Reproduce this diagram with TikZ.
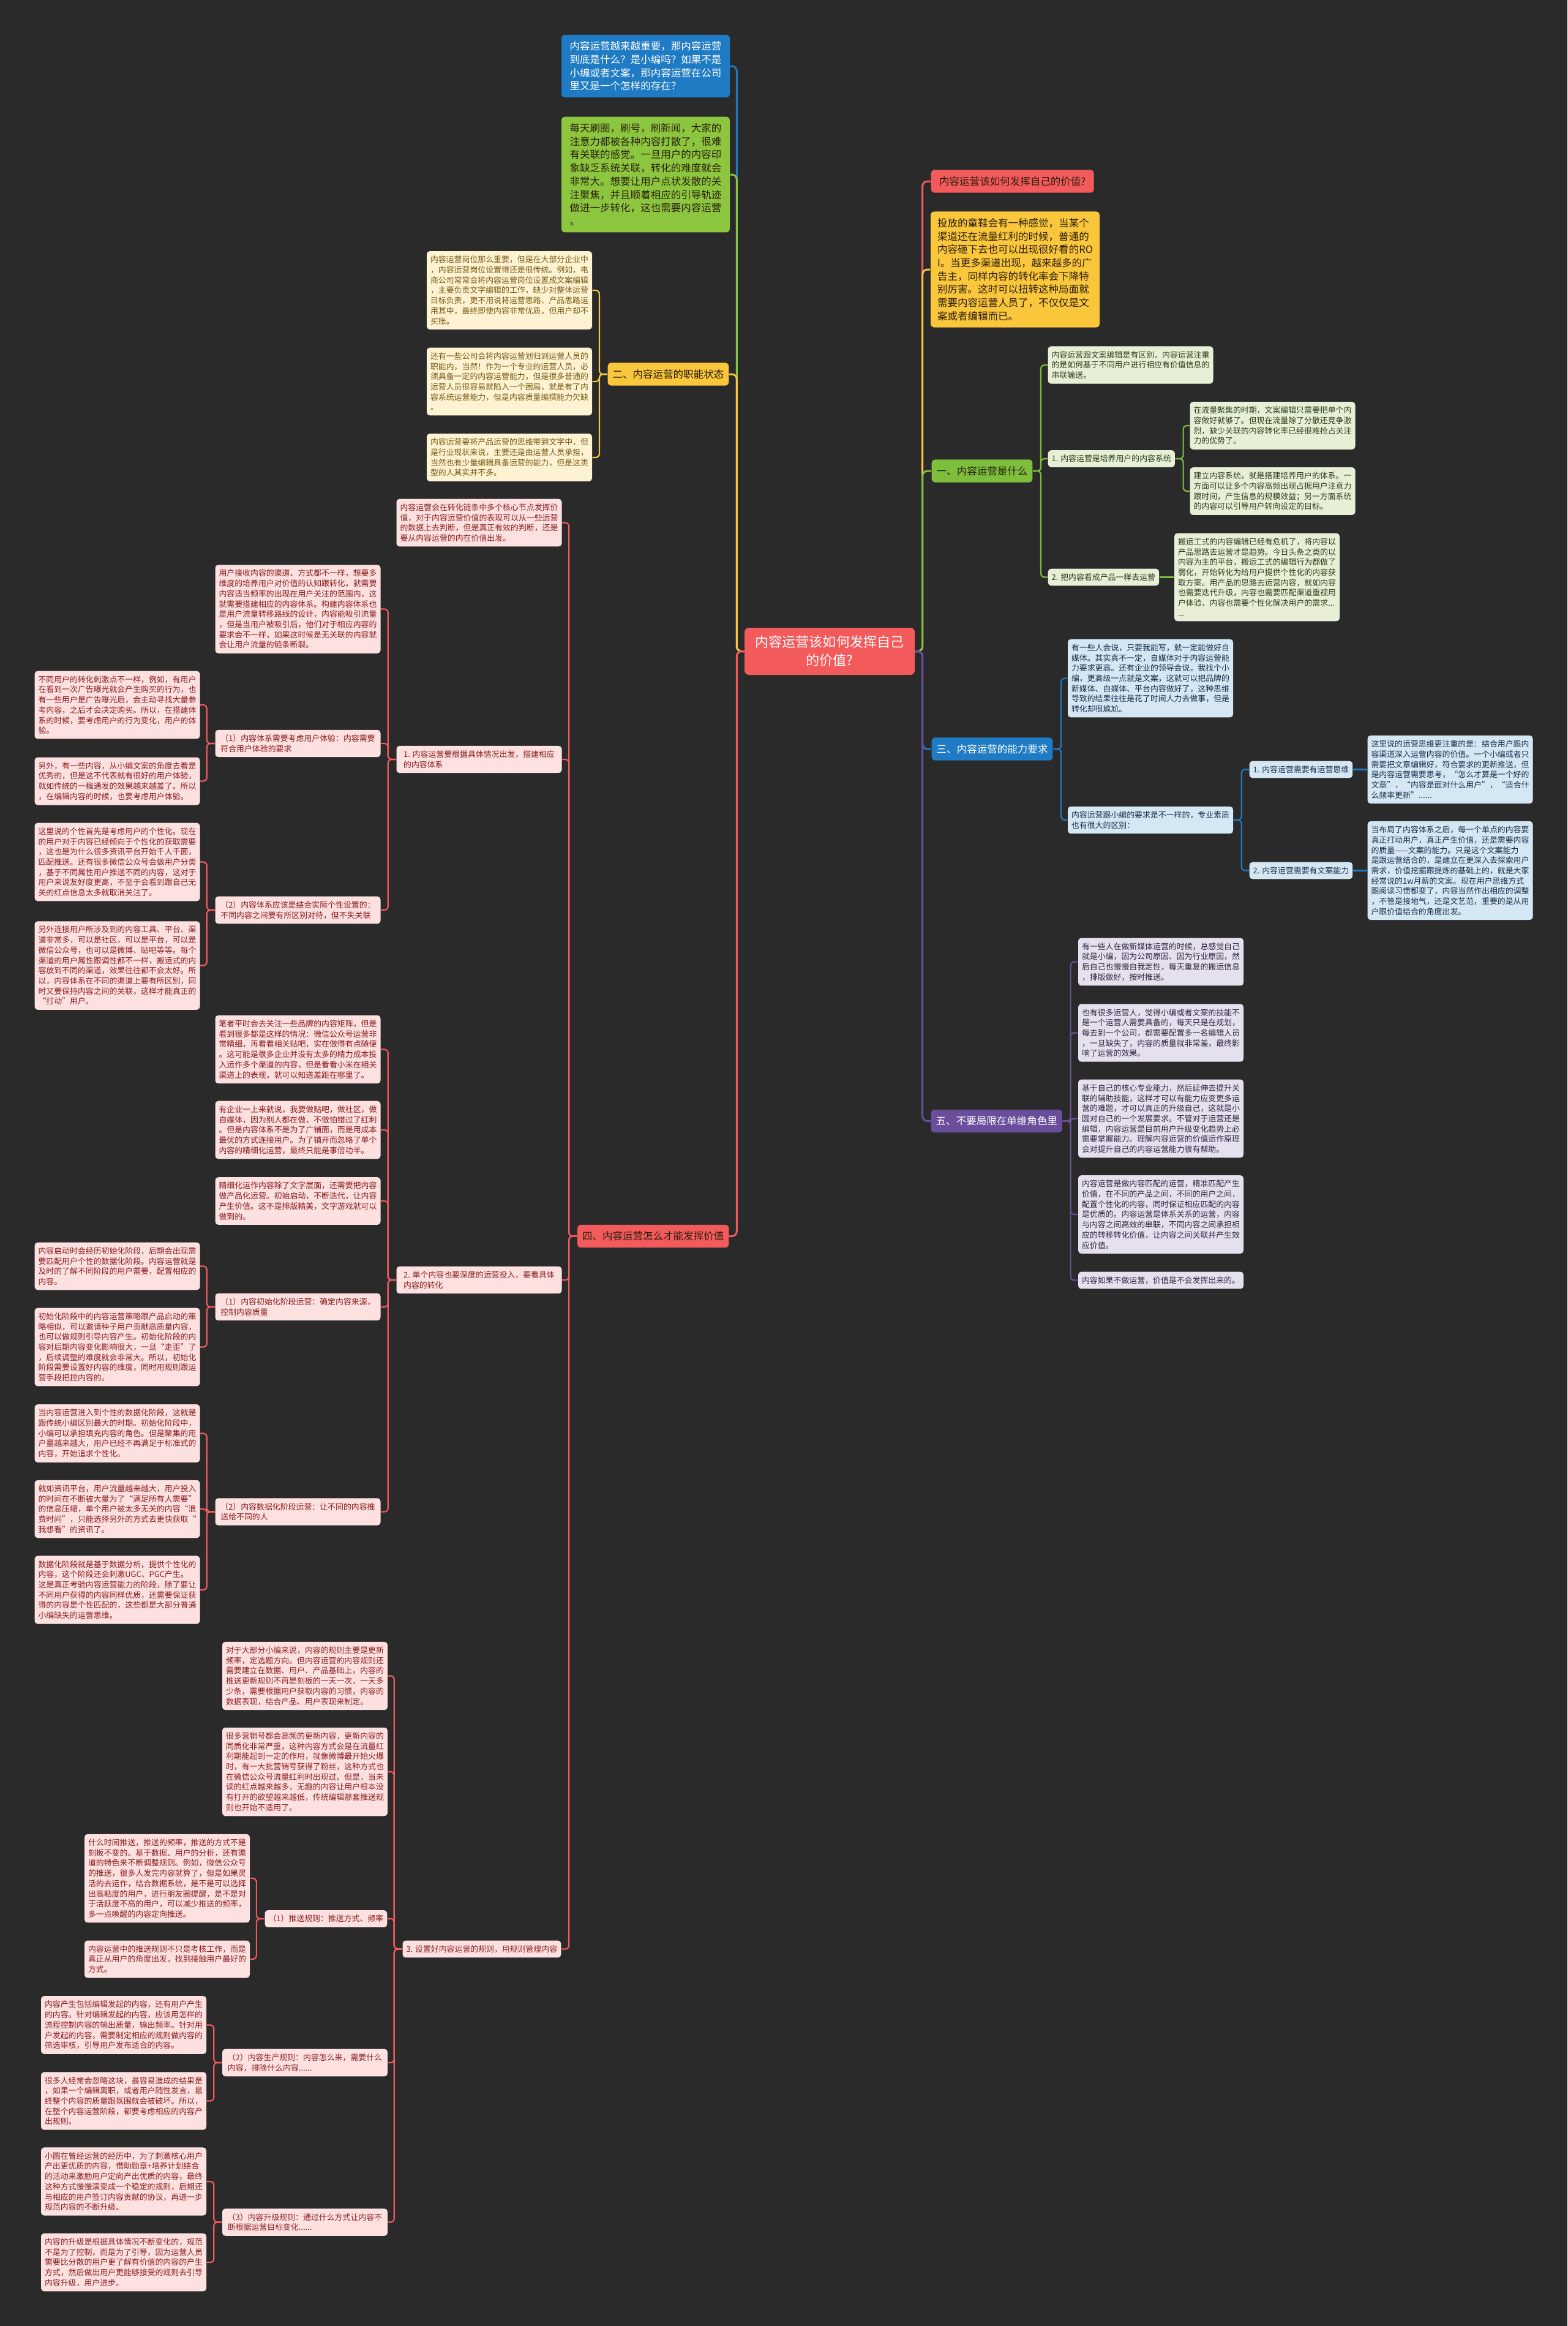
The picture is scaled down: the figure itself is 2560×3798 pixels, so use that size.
\documentclass[tikz,border=0pt]{standalone}
\usepackage{fontspec}
\setmainfont{Noto Sans CJK SC}
\usepackage{xcolor}
\usepackage{tikz}
\usetikzlibrary{positioning}

\definecolor{bg}{HTML}{2A2A2A}
\definecolor{cRoot}{HTML}{F25A5C}
\definecolor{cBlue}{HTML}{1F7BC3}
\definecolor{cGreen}{HTML}{8CC63F}
\definecolor{cYellow}{HTML}{F9C63C}
\definecolor{cRed}{HTML}{F25A5C}
\definecolor{cLime}{HTML}{7DBF3D}
\definecolor{cPurple}{HTML}{6A4E9B}
\definecolor{tDark}{HTML}{2B1E0C}
\definecolor{lYellow}{HTML}{FDF3D3}
\definecolor{tYellow}{HTML}{7A5A12}
\definecolor{lLime}{HTML}{E7F0D7}
\definecolor{tLime}{HTML}{2F3B1B}
\definecolor{lBlue}{HTML}{D6E7F4}
\definecolor{tBlue}{HTML}{17304A}
\definecolor{lPurple}{HTML}{E5E0ED}
\definecolor{tPurple}{HTML}{2E2640}
\definecolor{lRed}{HTML}{FDE1E1}
\definecolor{tRed}{HTML}{8A1C1C}

\newcommand{\smalltxt}{\fontsize{3.67pt}{4.75pt}\selectfont}
\newcommand{\bigtxt}{\fontsize{4.7pt}{6.17pt}\selectfont}
\newcommand{\roottxt}{\fontsize{6.3pt}{8.5pt}\selectfont}

\begin{document}
\begin{tikzpicture}[x=0.1mm, y=-0.1mm,
            rootbox/.style={rounded corners=0.7mm, fill=cRoot, text=white, font=\roottxt, align=center, minimum width=27.8mm, minimum height=7.7mm},
            bigbox/.style={rounded corners=0.6mm, inner xsep=0.8mm, inner ysep=1.1mm, font=\bigtxt, align=left},
            subbox/.style={rounded corners=0.5mm, inner xsep=0.6mm, inner ysep=0.78mm, font=\smalltxt, align=left},
            leaf/.style={subbox, minimum width=27mm},
            leafY/.style={leaf, fill=lYellow, text=tYellow},
            leafG/.style={leaf, fill=lLime, text=tLime},
            leafB/.style={leaf, fill=lBlue, text=tBlue},
            leafP/.style={leaf, fill=lPurple, text=tPurple},
            leafR/.style={leaf, fill=lRed, text=tRed},
            subG/.style={subbox, fill=lLime, text=tLime},
            subB/.style={subbox, fill=lBlue, text=tBlue},
            subR/.style={subbox, fill=lRed, text=tRed},
            trunk/.style={line width=0.3mm, rounded corners=0.8mm},
            conn/.style={line width=0.22mm, rounded corners=0.6mm}]

            \useasboundingbox (0,0) rectangle (2560,3798);
            \fill[bg] (0,0) rectangle (2560,3798);

            % Root
            \node (root) [rootbox] at (1355,1063.5) {内容运营该如何发挥自己\\的价值?};

            % Left: intro boxes
            \node (intro) [bigbox, fill=cBlue, text=white, minimum width=27.5mm] at (1054.5,108) {内容运营越来越重要，那内容运营\\到底是什么？是小编吗？如果不是\\小编或者文案，那内容运营在公司\\里又是一个怎样的存在？};
            \node (focus) [bigbox, fill=cGreen, text=tDark, minimum width=27.5mm] at (1054.5,285) {每天刷圈，刷号，刷新闻，大家的\\注意力都被各种内容打散了，很难\\有关联的感觉。一旦用户的内容印\\象缺乏系统关联，转化的难度就会\\非常大。想要让用户点状发散的关\\注聚焦，并且顺着相应的引导轨迹\\做进一步转化，这也需要内容运营\\。};

            % Left: 二
            \node (duty) [bigbox, fill=cYellow, text=tDark, anchor=east] at (1191,611) {二、内容运营的职能状态};
            \node (duty1) [leafY] at (832,474) {内容运营岗位那么重要，但是在大部分企业中\\，内容运营岗位设置得还是很传统。例如，电\\商公司常常会将内容运营岗位设置成文案编辑\\，主要负责文字编辑的工作，缺少对整体运营\\目标负责，更不用说将运营思路、产品思路运\\用其中，最终即使内容非常优质，但用户却不\\买账。};
            \node (duty2) [leafY] at (832,623) {还有一些公司会将内容运营划归到运营人员的\\职能内，当然！作为一个专业的运营人员，必\\须具备一定的内容运营能力，但是很多普通的\\运营人员很容易就陷入一个困局，就是有了内\\容系统运营能力，但是内容质量编撰能力欠缺\\。};
            \node (duty3) [leafY] at (832,747) {内容运营要将产品运营的思维带到文字中，但\\是行业现状来说，主要还是由运营人员承担，\\当然也有少量编辑具备运营的能力，但是这类\\型的人其实并不多。};

            % Left: 四
            \node (how) [bigbox, fill=cRed, text=tDark, anchor=east] at (1191,2018.5) {四、内容运营怎么才能发挥价值};
            \node (how0) [leafR] at (782.5,853.5) {内容运营会在转化链条中多个核心节点发挥价\\值，对于内容运营价值的表现可以从一些运营\\的数据上去判断，但是真正有效的判断，还是\\要从内容运营的内在价值出发。};
            \node (how1) [leafR] at (782.5,1240) {1. 内容运营要根据具体情况出发，搭建相应\\的内容体系};
            \node (sys0) [leafR] at (486.5,994.5) {用户接收内容的渠道、方式都不一样，想要多\\维度的培养用户对价值的认知跟转化，就需要\\内容适当频率的出现在用户关注的范围内，这\\就需要搭建相应的内容体系。构建内容体系也\\是用户流量转移路线的设计，内容能吸引流量\\，但是当用户被吸引后，他们对于相应内容的\\要求会不一样，如果这时候是无关联的内容就\\会让用户流量的链条断裂。};
            \node (sys1) [leafR] at (486.5,1214) {（1）内容体系需要考虑用户体验：内容需要\\符合用户体验的要求};
            \node (sys2) [leafR] at (486.5,1486) {（2）内容体系应该是结合实际个性设置的：\\不同内容之间要有所区别对待，但不失关联};
            \node (exp1) [leafR] at (191.5,1151) {不同用户的转化刺激点不一样，例如，有用户\\在看到一次广告曝光就会产生购买的行为，也\\有一些用户是广告曝光后，会主动寻找大量参\\考内容，之后才会决定购买。所以，在搭建体\\系的时候，要考虑用户的行为变化，用户的体\\验。};
            \node (exp2) [leafR] at (191.5,1275.5) {另外，有一些内容，从小编文案的角度去看是\\优秀的，但是这不代表就有很好的用户体验，\\就如传统的一稿通发的效果越来越差了。所以\\，在编辑内容的时候，也要考虑用户体验。};
            \node (per1) [leafR] at (191.5,1407.5) {这里说的个性首先是考虑用户的个性化。现在\\的用户对于内容已经倾向于个性化的获取需要\\，这也是为什么很多资讯平台开始千人千面，\\匹配推送。还有很多微信公众号会做用户分类\\，基于不同属性用户推送不同的内容，这对于\\用户来说友好度更高，不至于会看到跟自己无\\关的红点信息太多就取消关注了。};
            \node (per2) [leafR] at (191.5,1576.5) {另外连接用户所涉及到的内容工具、平台、渠\\道非常多，可以是社区，可以是平台，可以是\\微信公众号，也可以是微博、贴吧等等。每个\\渠道的用户属性跟调性都不一样，搬运式的内\\容放到不同的渠道，效果往往都不会太好。所\\以，内容体系在不同的渠道上要有所区别，同\\时又要保持内容之间的关联，这样才能真正的\\“打动”用户。};

            \node (how2) [leafR] at (782.5,2090) {2. 单个内容也要深度的运营投入，要看具体\\内容的转化};
            \node (deep1) [leafR] at (486.5,1713.5) {笔者平时会去关注一些品牌的内容矩阵，但是\\看到很多都是这样的情况：微信公众号运营非\\常精细，再看看相关贴吧，实在做得有点随便\\。这可能是很多企业并没有太多的精力成本投\\入运作多个渠道的内容，但是看看小米在相关\\渠道上的表现，就可以知道差距在哪里了。};
            \node (deep2) [leafR] at (486.5,1845) {有企业一上来就说，我要做贴吧，做社区，做\\自媒体，因为别人都在做，不做怕错过了红利\\。但是内容体系不是为了广铺面，而是用成本\\最优的方式连接用户。为了铺开而忽略了单个\\内容的精细化运营，最终只能是事倍功半。};
            \node (deep3) [leafR] at (486.5,1961) {精细化运作内容除了文字层面，还需要把内容\\做产品化运营。初始启动，不断迭代，让内容\\产生价值。这不是排版精美，文字游戏就可以\\做到的。};
            \node (init) [leafR] at (486.5,2134) {（1）内容初始化阶段运营：确定内容来源，\\控制内容质量};
            \node (data) [leafR] at (486.5,2468.5) {（2）内容数据化阶段运营：让不同的内容推\\送给不同的人};
            \node (init1) [leafR] at (191.5,2067.5) {内容启动时会经历初始化阶段，后期会出现需\\要匹配用户个性的数据化阶段。内容运营就是\\及时的了解不同阶段的用户需要，配置相应的\\内容。};
            \node (init2) [leafR] at (191.5,2199.5) {初始化阶段中的内容运营策略跟产品启动的策\\略相似，可以邀请种子用户贡献高质量内容，\\也可以做规则引导内容产生。初始化阶段的内\\容对后期内容变化影响很大，一旦“走歪”了\\，后续调整的难度就会非常大。所以，初始化\\阶段需要设置好内容的维度，同时用规则跟运\\营手段把控内容的。};
            \node (data1) [leafR] at (191.5,2340.5) {当内容运营进入到个性的数据化阶段，这就是\\跟传统小编区别最大的时期。初始化阶段中，\\小编可以承担填充内容的角色。但是聚集的用\\户量越来越大，用户已经不再满足于标准式的\\内容，开始追求个性化。};
            \node (data2) [leafR] at (191.5,2464) {就如资讯平台，用户流量越来越大，用户投入\\的时间在不断被大量为了“满足所有人需要”\\的信息压缩，单个用户被太多无关的内容“浪\\费时间”，只能选择另外的方式去更快获取“\\我想看”的资讯了。};
            \node (data3) [leafR] at (191.5,2596) {数据化阶段就是基于数据分析，提供个性化的\\内容，这个阶段还会刺激UGC、PGC产生。\\这是真正考验内容运营能力的阶段，除了要让\\不同用户获得的内容同样优质，还需要保证获\\得的内容是个性匹配的，这些都是大部分普通\\小编缺失的运营思维。};

            \node (how3) [subR, anchor=east] at (917,3182.5) {3. 设置好内容运营的规则，用规则管理内容};
            \node (rule1) [leafR] at (498,2736.5) {对于大部分小编来说，内容的规则主要是更新\\频率，定选题方向。但内容运营的内容规则还\\需要建立在数据、用户、产品基础上，内容的\\推送更新规则不再是刻板的一天一次，一天多\\少条，需要根据用户获取内容的习惯，内容的\\数据表现，结合产品、用户表现来制定。};
            \node (rule2) [leafR] at (498,2893) {很多营销号都会高频的更新内容，更新内容的\\同质化非常严重，这种内容方式会是在流量红\\利期能起到一定的作用，就像微博最开始火爆\\时，有一大批营销号获得了粉丝，这种方式也\\在微信公众号流量红利时出现过。但是，当未\\读的红点越来越多，无趣的内容让用户根本没\\有打开的欲望越来越低，传统编辑那套推送规\\则也开始不适用了。};
            \node (push) [subR, anchor=east] at (633,3133) {（1）推送规则：推送方式、频率};
            \node (make) [leafR] at (498,3368) {（2）内容生产规则：内容怎么来，需要什么\\内容，排除什么内容......};
            \node (grow) [leafR] at (498,3628.5) {（3）内容升级规则：通过什么方式让内容不\\断根据运营目标变化......};
            \node (push1) [leafR] at (273,3067) {什么时间推送，推送的频率，推送的方式不是\\刻板不变的。基于数据、用户的分析，还有渠\\道的特色来不断调整规则。例如，微信公众号\\的推送，很多人发完内容就算了，但是如果灵\\活的去运作，结合数据系统，是不是可以选择\\出高粘度的用户，进行朋友圈提醒，是不是对\\于活跃度不高的用户，可以减少推送的频率，\\多一点唤醒的内容定向推送。};
            \node (push2) [leafR] at (273,3199) {内容运营中的推送规则不只是考核工作，而是\\真正从用户的角度出发，找到接触用户最好的\\方式。};
            \node (make1) [leafR] at (202,3306.5) {内容产生包括编辑发起的内容，还有用户产生\\的内容。针对编辑发起的内容，应该用怎样的\\流程控制内容的输出质量，输出频率。针对用\\户发起的内容，需要制定相应的规则做内容的\\筛选审核，引导用户发布适合的内容。};
            \node (make2) [leafR] at (202,3430.5) {很多人经常会忽略这块，最容易造成的结果是\\，如果一个编辑离职，或者用户随性发言，最\\终整个内容的质量跟氛围就会被破坏。所以，\\在整个内容运营阶段，都要考虑相应的内容产\\出规则。};
            \node (grow1) [leafR] at (202,3562) {小圆在曾经运营的经历中，为了刺激核心用户\\产出更优质的内容，借助勋章+培养计划结合\\的活动来激励用户定向产出优质的内容，最终\\这种方式慢慢演变成一个稳定的规则，后期还\\与相应的用户签订内容贡献的协议，再进一步\\规范内容的不断升级。};
            \node (grow2) [leafR] at (202,3694) {内容的升级是根据具体情况不断变化的，规范\\不是为了控制，而是为了引导，因为运营人员\\需要比分散的用户更了解有价值的内容的产生\\方式，然后做出用户更能够接受的规则去引导\\内容升级，用户进步。};

            % Right: title and ROI box
            \node (value) [bigbox, fill=cRed, text=tDark, anchor=west, minimum width=26.6mm] at (1520,296) {内容运营该如何发挥自己的价值?};
            \node (roi) [bigbox, fill=cYellow, text=tDark, minimum width=27.6mm] at (1658,440) {投放的童鞋会有一种感觉，当某个\\渠道还在流量红利的时候，普通的\\内容砸下去也可以出现很好看的RO\\I。当更多渠道出现，越来越多的广\\告主，同样内容的转化率会下降特\\别厉害。这时可以扭转这种局面就\\需要内容运营人员了，不仅仅是文\\案或者编辑而已。};

            % Right: 一
            \node (what) [bigbox, fill=cLime, text=tDark, anchor=west] at (1521,769) {一、内容运营是什么};
            \node (what0) [leafG] at (1846.5,596) {内容运营跟文案编辑是有区别，内容运营注重\\的是如何基于不同用户进行相应有价值信息的\\串联输送。};
            \node (what1) [subG, anchor=west] at (1711,749) {1. 内容运营是培养用户的内容系统};
            \node (what2) [subG, anchor=west] at (1711,942.5) {2. 把内容看成产品一样去运营};
            \node (sysa) [leafG] at (2078.5,695) {在流量聚集的时期，文案编辑只需要把单个内\\容做好就够了。但现在流量除了分散还竞争激\\烈，缺少关联的内容转化率已经很难抢占关注\\力的优势了。};
            \node (sysb) [leafG] at (2078.5,802) {建立内容系统，就是搭建培养用户的体系。一\\方面可以让多个内容高频出现占据用户注意力\\跟时间，产生信息的规模效益；另一方面系统\\的内容可以引导用户转向设定的目标。};
            \node (prod) [leafG] at (2053,942.5) {搬运工式的内容编辑已经有危机了，将内容以\\产品思路去运营才是趋势。今日头条之类的以\\内容为主的平台，搬运工式的编辑行为都做了\\弱化，开始转化为给用户提供个性化的内容获\\取方案。用产品的思路去运营内容，就如内容\\也需要迭代升级，内容也需要匹配渠道重视用\\户体验，内容也需要个性化解决用户的需求...\\...};

            % Right: 三
            \node (ability) [bigbox, fill=cBlue, text=white, anchor=west] at (1521,1223) {三、内容运营的能力要求};
            \node (abil0) [leafB] at (1879,1107.5) {有一些人会说，只要我能写，就一定能做好自\\媒体。其实真不一定，自媒体对于内容运营能\\力要求更高。还有企业的领导会说，我找个小\\编，更高级一点就是文案，这就可以把品牌的\\新媒体、自媒体、平台内容做好了，这种思维\\导致的结果往往是花了时间人力去做事，但是\\转化却很尴尬。};
            \node (abil1) [leafB] at (1879,1339) {内容运营跟小编的要求是不一样的，专业素质\\也有很大的区别：};
            \node (think) [subB, anchor=west] at (2040,1256.5) {1. 内容运营需要有运营思维};
            \node (copy) [subB, anchor=west] at (2040,1421.5) {2. 内容运营需要有文案能力};
            \node (think1) [leafB] at (2368.5,1256.5) {这里说的运营思维更注重的是：结合用户跟内\\容渠道深入运营内容的价值。一个小编或者只\\需要把文章编辑好，符合要求的更新推送，但\\是内容运营需要思考，“怎么才算是一个好的\\文章”，“内容是面对什么用户”，“适合什\\么频率更新”......};
            \node (copy1) [leafB] at (2368.5,1421.5) {当布局了内容体系之后，每一个单点的内容要\\真正打动用户，真正产生价值，还是需要内容\\的质量——文案的能力。只是这个文案能力\\是跟运营结合的，是建立在更深入去探索用户\\需求，价值挖掘跟提炼的基础上的，就是大家\\经常说的1w月薪的文案。现在用户思维方式\\跟阅读习惯都变了，内容当然作出相应的调整\\，不管是接地气，还是文艺范，重要的是从用\\户跟价值结合的角度出发。};

            % Right: 五
            \node (role) [bigbox, fill=cPurple, text=white, anchor=west] at (1520,1830.5) {五、不要局限在单维角色里};
            \node (role1) [leafP] at (1896,1570.5) {有一些人在做新媒体运营的时候，总感觉自己\\就是小编，因为公司原因、因为行业原因，然\\后自己也慢慢自我定性，每天重复的搬运信息\\，排版做好，按时推送。};
            \node (role2) [leafP] at (1896,1686.5) {也有很多运营人，觉得小编或者文案的技能不\\是一个运营人需要具备的，每天只是在规划，\\每去到一个公司，都需要配置多一名编辑人员\\，一旦缺失了，内容的质量就非常差，最终影\\响了运营的效果。};
            \node (role3) [leafP] at (1896,1826.5) {基于自己的核心专业能力，然后延伸去提升关\\联的辅助技能，这样才可以有能力应变更多运\\营的难题，才可以真正的升级自己，这就是小\\圆对自己的一个发展要求。不管对于运营还是\\编辑，内容运营是目前用户升级变化趋势上必\\需要掌握能力。理解内容运营的价值运作原理\\会对提升自己的内容运营能力很有帮助。};
            \node (role4) [leafP] at (1896,1983) {内容运营是做内容匹配的运营，精准匹配产生\\价值，在不同的产品之间，不同的用户之间，\\配置个性化的内容，同时保证相应匹配的内容\\是优质的。内容运营是体系关系的运营，内容\\与内容之间高效的串联，不同内容之间承担相\\应的转移转化价值，让内容之间关联并产生效\\应价值。};
            \node (role5) [leafP] at (1896,2090.5) {内容如果不做运营，价值是不会发挥出来的。};

            % Root connectors
            \draw [trunk, cBlue] (root.west) -- ++(-12,0) |- (intro.east);
            \draw [trunk, cGreen] (root.west) -- ++(-12,0) |- (focus.east);
            \draw [trunk, cYellow] (root.west) -- ++(-12,0) |- (duty.east);
            \draw [trunk, cRed] (root.west) -- ++(-12,0) |- (how.east);
            \draw [trunk, cRed] (root.east) -- ++(12,0) |- (value.west);
            \draw [trunk, cYellow] (root.east) -- ++(12,0) |- (roi.west);
            \draw [trunk, cLime] (root.east) -- ++(12,0) |- (what.west);
            \draw [trunk, cBlue] (root.east) -- ++(12,0) |- (ability.west);
            \draw [trunk, cPurple] (root.east) -- ++(12,0) |- (role.west);

            % 二
            \foreach \c in {duty1,duty2,duty3}
                \draw [conn, cYellow] (duty.west) -- ++(-13,0) |- (\c.east);

            % 四
            \foreach \c in {how0,how1,how2,how3}
                \draw [conn, cRed] (how.west) -- ++(-13,0) |- (\c.east);
            \foreach \c in {sys0,sys1,sys2}
                \draw [conn, cRed] (how1.west) -- ++(-13,0) |- (\c.east);
            \foreach \c in {exp1,exp2}
                \draw [conn, cRed] (sys1.west) -- ++(-13,0) |- (\c.east);
            \foreach \c in {per1,per2}
                \draw [conn, cRed] (sys2.west) -- ++(-13,0) |- (\c.east);
            \foreach \c in {deep1,deep2,deep3,init,data}
                \draw [conn, cRed] (how2.west) -- ++(-13,0) |- (\c.east);
            \foreach \c in {init1,init2}
                \draw [conn, cRed] (init.west) -- ++(-13,0) |- (\c.east);
            \foreach \c in {data1,data2,data3}
                \draw [conn, cRed] (data.west) -- ++(-13,0) |- (\c.east);
            \foreach \c in {rule1,rule2,push,make,grow}
                \draw [conn, cRed] (how3.west) -- ++(-13,0) |- (\c.east);
            \foreach \c in {push1,push2}
                \draw [conn, cRed] (push.west) -- ++(-13,0) |- (\c.east);
            \foreach \c in {make1,make2}
                \draw [conn, cRed] (make.west) -- ++(-13,0) |- (\c.east);
            \foreach \c in {grow1,grow2}
                \draw [conn, cRed] (grow.west) -- ++(-13,0) |- (\c.east);

            % 一
            \foreach \c in {what0,what1,what2}
                \draw [conn, cLime] (what.east) -- ++(13,0) |- (\c.west);
            \foreach \c in {sysa,sysb}
                \draw [conn, cLime] (what1.east) -- ++(13,0) |- (\c.west);
            \draw [conn, cLime] (what2.east) -- (prod.west);

            % 三
            \foreach \c in {abil0,abil1}
                \draw [conn, cBlue] (ability.east) -- ++(13,0) |- (\c.west);
            \foreach \c in {think,copy}
                \draw [conn, cBlue] (abil1.east) -- ++(13,0) |- (\c.west);
            \draw [conn, cBlue] (think.east) -- (think1.west);
            \draw [conn, cBlue] (copy.east) -- (copy1.west);

            % 五
            \foreach \c in {role1,role2,role3,role4,role5}
                \draw [conn, cPurple] (role.east) -- ++(13,0) |- (\c.west);
        \end{tikzpicture}
\end{document}
